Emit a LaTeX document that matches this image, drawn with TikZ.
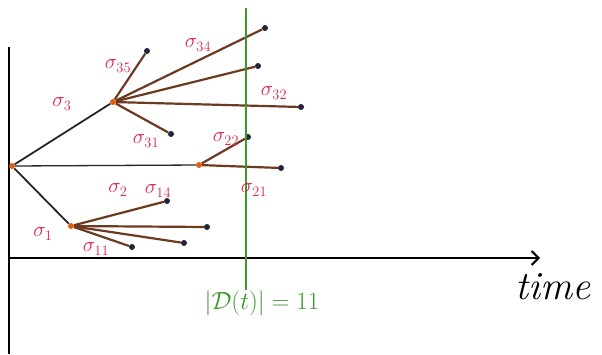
\documentclass[tikz,border=0pt]{standalone}
\usepackage{amsmath}
\usetikzlibrary{arrows.meta}
\definecolor{brn}{HTML}{6B3A1F}
\definecolor{lbl}{HTML}{E0204A}
\definecolor{grn}{HTML}{3A9A2A}
\definecolor{dotc}{HTML}{23233A}
\definecolor{org}{HTML}{E06010}
\begin{document}
\begin{tikzpicture}[x=1pt,y=-1pt,
  inner/.style={circle,fill=org,inner sep=0pt,minimum size=6pt},
  leaf/.style={circle,fill=dotc,inner sep=0pt,minimum size=6pt},
  br/.style={draw=brn,line width=2.2pt},
  tr/.style={draw=black!85,line width=1.8pt},
  lab/.style={text=lbl,font=\fontsize{21}{24}\selectfont}]
\useasboundingbox (0,0) rectangle (602,354);
% axes
\coordinate (o) at (9,258);
\coordinate (ytop) at (9,47);
\coordinate (ybot) at (9,354);
\coordinate (xend) at (540,258);
\draw[line width=2pt] (ytop) -- (ybot);
\draw[line width=2pt,-{Straight Barb[length=7pt,width=14pt]}] (o) -- (xend);
\node[font=\fontsize{40}{42}\selectfont\itshape] (time) at (553,287) {time};
% nodes
\node[inner] (r) at (12,166) {};
\node[inner] (n3) at (113,102) {};
\node[inner] (n2) at (199,165) {};
\node[inner] (n1) at (71,226) {};
\node[leaf] (l35) at (147,51) {};
\node[leaf] (l34) at (265,28) {};
\node[leaf] (l33) at (258,66) {};
\node[leaf] (l32) at (301,107) {};
\node[leaf] (l31) at (171,134) {};
\node[leaf] (l22) at (248,137) {};
\node[leaf] (l21) at (281,168) {};
\node[leaf] (l14) at (167,201) {};
\node[leaf] (l13) at (207,227) {};
\node[leaf] (l12) at (184,243) {};
\node[leaf] (l11) at (132,247) {};
% edges
\draw[tr] (r) -- (n3);
\draw[draw=black!85,line width=1.3pt] (r) -- (n2);
\draw[tr] (r) -- (n1);
\foreach \l in {l35,l34,l33,l32,l31} \draw[br] (n3) -- (\l);
\foreach \l in {l22,l21} \draw[br] (n2) -- (\l);
\foreach \l in {l14,l13,l12,l11} \draw[br] (n1) -- (\l);
% green line
\coordinate (gt) at (246,8);
\coordinate (gb) at (246,290);
\draw[grn,line width=2.5pt] (gt) -- (gb);
\node[text=grn,font=\fontsize{27}{30}\selectfont] (D) at (262,303) {$|\mathcal{D}(t)| = 11$};
% labels
\node[lab] (s3) at (62,104) {$\sigma_{3}$};
\node[lab] (s35) at (118,66) {$\sigma_{35}$};
\node[lab] (s34) at (198,45) {$\sigma_{34}$};
\node[lab] (s32) at (274,93) {$\sigma_{32}$};
\node[lab] (s31) at (146,141) {$\sigma_{31}$};
\node[lab] (s22) at (226,139) {$\sigma_{22}$};
\node[lab] (s21) at (254,190) {$\sigma_{21}$};
\node[lab] (s2) at (118,190) {$\sigma_{2}$};
\node[lab] (s14) at (158,191) {$\sigma_{14}$};
\node[lab] (s1) at (43,234) {$\sigma_{1}$};
\node[lab] (s11) at (96,249) {$\sigma_{11}$};
\end{tikzpicture}
\end{document}
